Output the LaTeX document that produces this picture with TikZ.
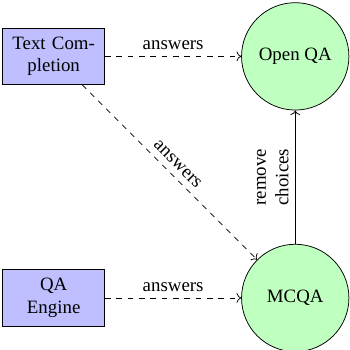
\documentclass[tikz,border=0pt]{standalone}
\usepackage{fontspec}
\setmainfont{Liberation Serif}
\usepackage{tikz}
\usetikzlibrary{calc,arrows.meta}

\tikzset{
  srcbox/.style={draw, fill=blue!25, text width=1.55cm, align=center,
    minimum width=1.9cm, minimum height=1.05cm},
  qaball/.style={draw, circle, fill=green!25, minimum size=2cm},
}

\begin{document}
\begin{tikzpicture}
  \useasboundingbox (-1.0,1.05) rectangle (5.52,-5.47);

  %% Sources on the left
  \node[srcbox] (TC) at (0,0)    {Text Completion};
  \node[srcbox] (QE) at (0,-4.5) {QA Engine};

  %% Question answering formats
  \node[qaball] (OQA)  at (4.5,0)    {Open QA};
  \node[qaball] (MCQA) at (4.5,-4.5) {MCQA};

  %% Arrows
  \draw[->, dashed] (TC) -- node[above] {answers} (OQA);
  \draw[->, dashed] (TC) -- node[above, sloped] {answers} (MCQA);
  \draw[->, dashed] (QE) -- node[above] {answers} (MCQA);
  \draw[->] (MCQA) -- node[above, sloped, align=center] {remove\\choices} (OQA);

\end{tikzpicture}
\end{document}
